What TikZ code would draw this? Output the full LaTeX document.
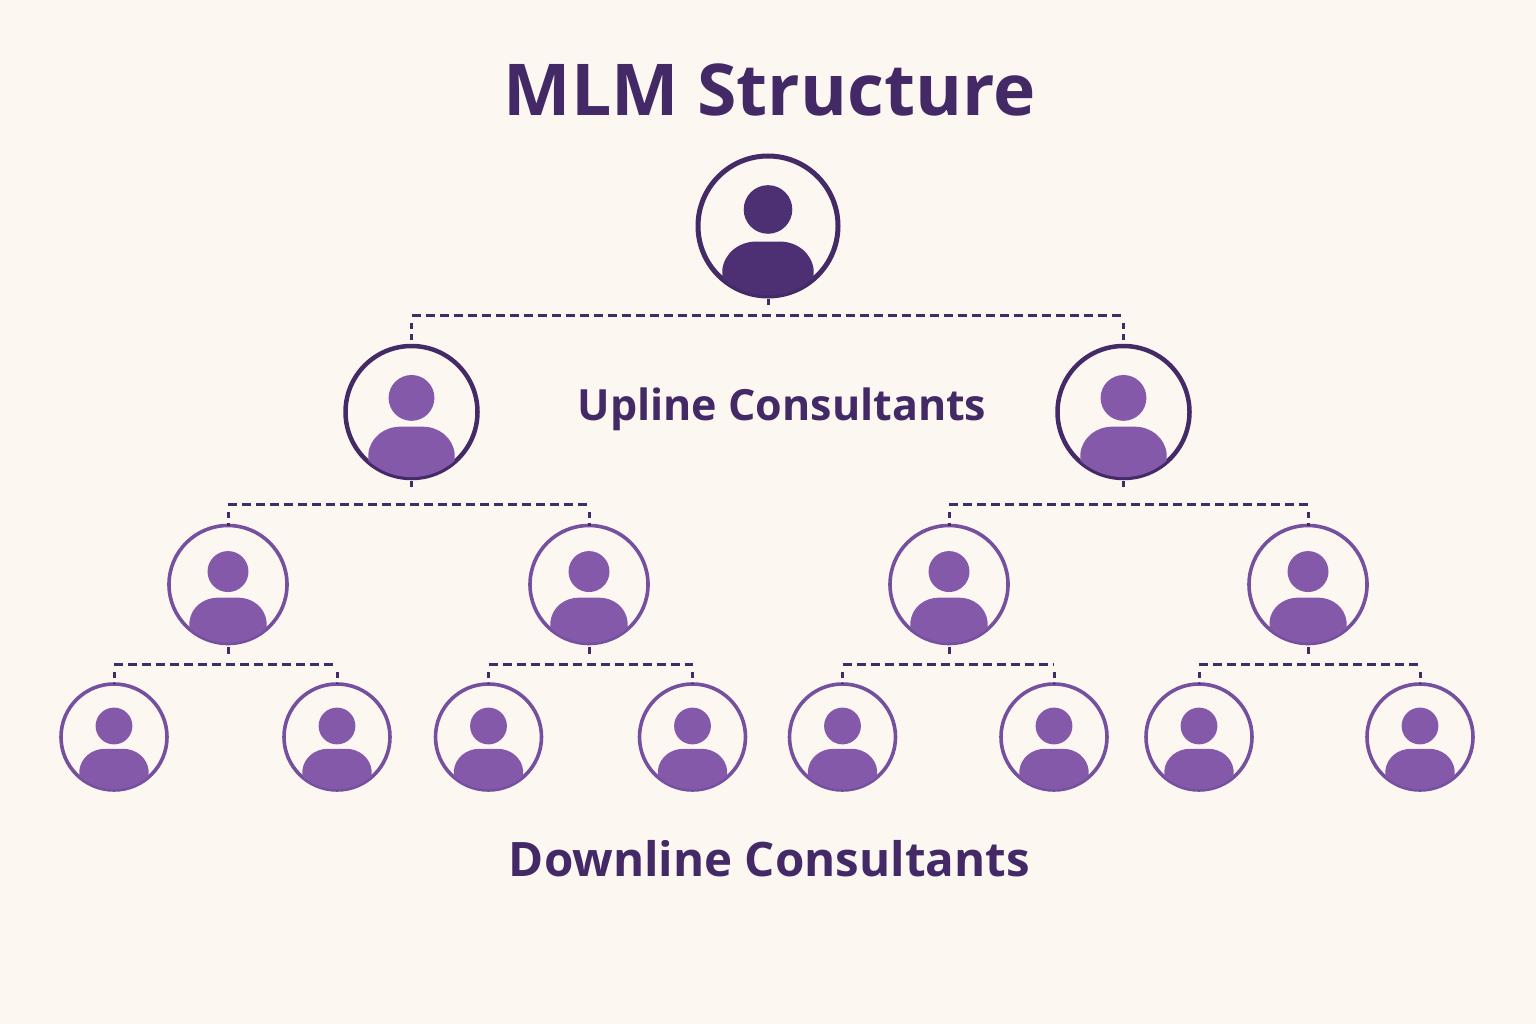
\documentclass[tikz,border=0pt]{standalone}
\usepackage{fontspec}
\setmainfont{Open Sans}
\definecolor{bgc}{HTML}{FDF7F2}
\definecolor{darkp}{HTML}{452A68}
\definecolor{rootfill}{HTML}{4D2F74}
\definecolor{midp}{HTML}{8559A9}
\definecolor{ringp}{HTML}{74509F}
\definecolor{linep}{HTML}{432B68}
\definecolor{textp}{HTML}{432A66}
\tikzset{
  ringnode/.style={circle,inner sep=0pt,outer sep=0pt,fill=bgc},
  labelnode/.style={text=textp,inner sep=0pt},
  dashbus/.style={draw=linep,line width=3pt,dash pattern=on 9pt off 5pt},
  stubline/.style={draw=linep,line width=3pt,shorten <=3pt},
  childstub/.style={draw=linep,line width=3pt,dash pattern=on 0pt off 8pt on 6pt off 5pt on 6pt off 100pt}
}
\newcommand{\personicon}[8]{%
  % name, x, y, radius, ring colour, fill colour, ring width, inner drop
  \node[ringnode,draw=#5,line width=#7pt,minimum size=#4*2pt] (#1) at (#2,#3) {};
  \begin{scope}[shift={(#2,#3+#8)},x=#4/72*1pt,y=-#4/72*1pt]
    \fill[#6] (0,-17) circle[radius=25];
  \end{scope}
  \begin{scope}[shift={(#2,#3)},x=#4/72*1pt,y=-#4/72*1pt]
    \begin{scope}
      \clip (0,0) circle[radius=71];
      \fill[#6] (-47,45) .. controls (-45,28) and (-30,16) .. (-12,16)
        -- (12,16) .. controls (30,16) and (45,28) .. (47,45)
        -- (47,80) -- (-47,80) -- cycle;
    \end{scope}
  \end{scope}
}
\begin{document}
\begin{tikzpicture}[x=1pt,y=-1pt]
\useasboundingbox (0,0) rectangle (1536,1024);
\fill[bgc] (0,0) rectangle (1536,1024);

\node[labelnode,font=\fontsize{71.5}{71.5}\selectfont\bfseries] (title) at (769.5,90) {MLM Structure};
\node[labelnode,font=\fontsize{43}{43}\selectfont\bfseries] (upline) at (782,409) {Upline Consultants};
\node[labelnode,font=\fontsize{47.5}{47.5}\selectfont\bfseries] (downline) at (769.5,859) {Downline Consultants};

\personicon{root}{768}{226}{70}{darkp}{rootfill}{5}{0}
\personicon{ua}{411.5}{412}{66}{darkp}{midp}{4.5}{1.5}
\personicon{ub}{1123.5}{412}{66}{darkp}{midp}{4.5}{1.5}
\personicon{ma}{228}{584.5}{59}{ringp}{midp}{3.6}{1}
\personicon{mb}{589}{584.5}{59}{ringp}{midp}{3.6}{1}
\personicon{mc}{949}{584.5}{59}{ringp}{midp}{3.6}{1}
\personicon{md}{1308}{584.5}{59}{ringp}{midp}{3.6}{1}
\personicon{da}{114}{737}{53}{ringp}{midp}{3.6}{1.5}
\personicon{db}{337}{737}{53}{ringp}{midp}{3.6}{1.5}
\personicon{dc}{488.5}{737}{53}{ringp}{midp}{3.6}{1.5}
\personicon{dd}{692.5}{737}{53}{ringp}{midp}{3.6}{1.5}
\personicon{de}{842.5}{737}{53}{ringp}{midp}{3.6}{1.5}
\personicon{df}{1054}{737}{53}{ringp}{midp}{3.6}{1.5}
\personicon{dg}{1199}{737}{53}{ringp}{midp}{3.6}{1.5}
\personicon{dh}{1420}{737}{53}{ringp}{midp}{3.6}{1.5}

\coordinate (busa) at (768,315);
\coordinate (busb) at (411.5,504);
\coordinate (busc) at (1123.5,504);
\coordinate (busd) at (228,664);
\coordinate (buse) at (589,664);
\coordinate (busf) at (949,664);
\coordinate (busg) at (1308,664);

\newcommand{\linkpair}[5]{%
  % parent, left child, right child, bus coordinate, stub gap
  \draw[stubline,shorten >=#5pt] (#1.south) -- (#1.south |- #4);
  \draw[dashbus] (#2.north |- #4) -- (#3.north |- #4);
  \draw[childstub] (#2.north |- #4) -- (#2.north);
  \draw[childstub] (#3.north |- #4) -- (#3.north);
}
\linkpair{root}{ua}{ub}{busa}{10}
\linkpair{ua}{ma}{mb}{busb}{17}
\linkpair{ub}{mc}{md}{busc}{17}
\linkpair{ma}{da}{db}{busd}{10}
\linkpair{mb}{dc}{dd}{buse}{10}
\linkpair{mc}{de}{df}{busf}{10}
\linkpair{md}{dg}{dh}{busg}{10}
\end{tikzpicture}
\end{document}
